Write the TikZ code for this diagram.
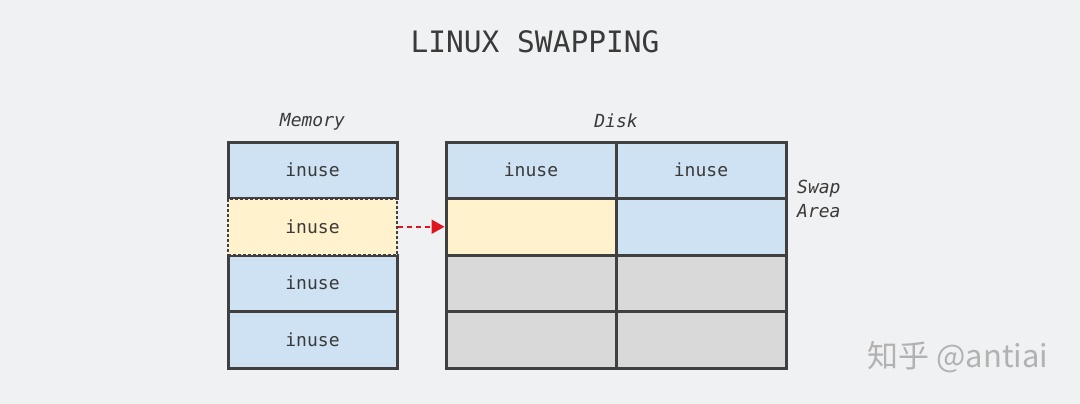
\documentclass[tikz,border=0pt]{standalone}
\usepackage{fontspec}
\setmonofont{DejaVu Sans Mono}
\newfontfamily\cjk{Noto Sans CJK SC}
\usetikzlibrary{arrows.meta, positioning}
\definecolor{bg}{HTML}{F0F1F3}
\definecolor{edge}{HTML}{404040}
\definecolor{ink}{HTML}{3A3A3A}
\definecolor{used}{HTML}{CFE2F3}
\definecolor{moved}{HTML}{FFF2CC}
\definecolor{free}{HTML}{D9D9D9}
\definecolor{arrowred}{HTML}{E0141E}

\begin{document}
\begin{tikzpicture}[x=1pt, y=-1pt,
          > = {Triangle[length=13pt, width=14pt]},
  cell/.style = {draw=edge, line width=3pt, minimum width=169pt,
                 minimum height=56.5pt, inner sep=0pt, text=ink,
                 font=\ttfamily\fontsize{18}{20}\selectfont},
 label/.style = {text=ink, font=\ttfamily\itshape\fontsize{18}{24}\selectfont}
                    ]
% background
\fill[bg] (0,0) rectangle (1080,404);
\useasboundingbox (0,0) rectangle (1080,404);
% title
\node[text=ink, font=\ttfamily\fontsize{29.5}{32}\selectfont] (title) at (535,42) {LINUX SWAPPING};
% memory
\foreach \r/\y in {1/170.25, 3/283.25, 4/339.75}
    \node[cell, fill=used] (mem\r) at (312.5,\y) {inuse};
\node[cell, fill=moved, line width=2.5pt, dash pattern=on 3pt off 2pt] (mem2) at (312.5,226.75) {inuse};
% disk
\node[cell, fill=used, minimum width=170pt] (disk11) at (531,170.25) {inuse};
\node[cell, fill=used, minimum width=170pt] (disk12) at (701,170.25) {inuse};
\node[cell, fill=moved, minimum width=170pt] (disk21) at (531,226.75) {};
\node[cell, fill=used, minimum width=170pt] (disk22) at (701,226.75) {};
\foreach \r/\y in {3/283.25, 4/339.75} {
    \node[cell, fill=free, minimum width=170pt] (disk\r1) at (531,\y) {};
    \node[cell, fill=free, minimum width=170pt] (disk\r2) at (701,\y) {};
}
% labels
\node[label] (memlbl) at (312.5,122) {Memory};
\node[label] (disklbl) at (616,121) {Disk};
\node[label, anchor=west, align=left, inner sep=0pt] (swaplbl) at (797,199) {Swap\\Area};
% swap out
\draw[->, arrowred, line width=2pt, dash pattern=on 5pt off 4pt] (mem2.east) -- (disk21.west);
% watermark
\node[text=gray!60, font=\cjk\fontsize{31}{34}\selectfont] (mark) at (958,357) {知乎 @antiai};
\end{tikzpicture}
\end{document}
